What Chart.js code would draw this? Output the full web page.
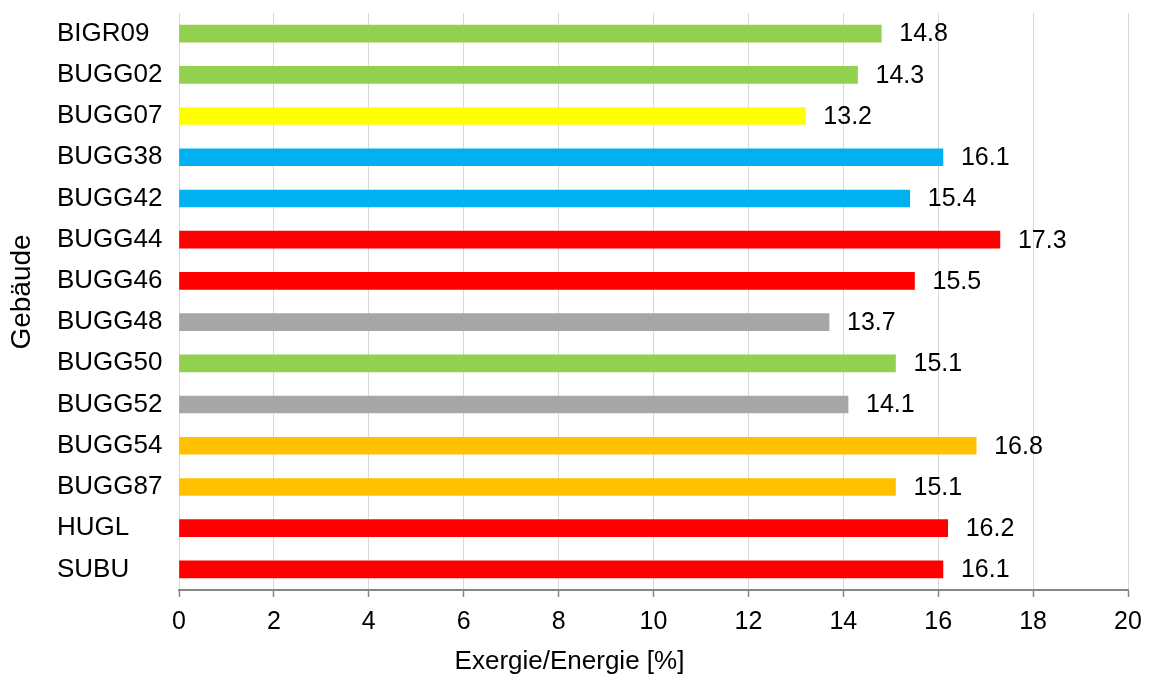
<!DOCTYPE html>
<html>
<head>
<meta charset="utf-8">
<title>Exergie/Energie je Gebäude</title>
<script src="https://cdn.jsdelivr.net/npm/chart.js@4.4.1/dist/chart.umd.min.js"></script>
<style>
  html, body { margin: 0; padding: 0; background: #ffffff; }
  #wrap { width: 1151px; height: 675px; position: relative; }
</style>
</head>
<body>
<div id="wrap"><canvas id="chart" width="1151" height="675"></canvas></div>
<script>
// Buildings and their exergy/energy ratio in percent
const buildings = ['BIGR09', 'BUGG02', 'BUGG07', 'BUGG38', 'BUGG42', 'BUGG44', 'BUGG46',
                   'BUGG48', 'BUGG50', 'BUGG52', 'BUGG54', 'BUGG87', 'HUGL', 'SUBU'];
const ratios = [14.8, 14.3, 13.2, 16.1, 15.4, 17.3, 15.5, 13.7, 15.1, 14.1, 16.8, 15.1, 16.2, 16.1];
const barColors = ['#92D050', '#92D050', '#FFFF00', '#00B0F0', '#00B0F0', '#FF0000', '#FF0000',
                   '#A6A6A6', '#92D050', '#A6A6A6', '#FFC000', '#FFC000', '#FF0000', '#FF0000'];
const xTitle = 'Exergie/Energie [%]';
const yTitle = 'Gebäude';

const FONT = '"Liberation Sans", Arial, sans-serif';

// Value labels to the right of each bar
const valueLabels = {
  id: 'valueLabels',
  afterDatasetsDraw(chart) {
    const ctx = chart.ctx;
    const meta = chart.getDatasetMeta(0);
    const data = chart.data.datasets[0].data;
    ctx.save();
    ctx.font = '25px ' + FONT;
    ctx.fillStyle = '#000000';
    ctx.textAlign = 'left';
    ctx.textBaseline = 'middle';
    meta.data.forEach((bar, i) => {
      ctx.fillText(data[i].toFixed(1), bar.x + 18, bar.y + 1);
    });
    ctx.restore();
  }
};

// Axis titles
const axisTitles = {
  id: 'axisTitles',
  afterDraw(chart) {
    const ctx = chart.ctx;
    ctx.save();
    ctx.fillStyle = '#000000';
    ctx.textAlign = 'center';
    ctx.textBaseline = 'middle';
    ctx.font = '26px ' + FONT;
    ctx.fillText(xTitle, 569.5, 662);
    ctx.translate(22, 292);
    ctx.rotate(-Math.PI / 2);
    ctx.font = '28px ' + FONT;
    ctx.fillText(yTitle, 0, 0);
    ctx.restore();
  }
};

new Chart(document.getElementById('chart'), {
  type: 'bar',
  data: {
    labels: buildings,
    datasets: [{
      data: ratios,
      backgroundColor: barColors,
      borderWidth: 0,
      barThickness: 17
    }]
  },
  options: {
    indexAxis: 'y',
    responsive: false,
    animation: false,
    layout: { padding: { left: 57, top: 13, right: 23, bottom: 0 } },
    plugins: {
      legend: { display: false },
      tooltip: { enabled: false },
      title: { display: false }
    },
    scales: {
      x: {
        min: 0,
        max: 20,
        ticks: {
          stepSize: 2,
          color: '#000000',
          font: { family: FONT, size: 25 },
          padding: 10,
          maxRotation: 0
        },
        grid: {
          color: '#D9D9D9',
          lineWidth: 1,
          drawTicks: true,
          tickLength: 7,
          tickColor: '#868686',
          tickWidth: 1.5
        },
        border: { display: true, color: '#868686', width: 2 },
        afterFit(scale) { scale.height = 85; scale.paddingLeft = 0; scale.paddingRight = 0; }
      },
      y: {
        ticks: {
          color: '#000000',
          font: { family: FONT, size: 26 },
          crossAlign: 'far',
          autoSkip: false
        },
        grid: { display: false, drawTicks: false },
        border: { display: false },
        afterFit(scale) { scale.width = 122; scale.paddingTop = 0; scale.paddingBottom = 0; }
      }
    }
  },
  plugins: [valueLabels, axisTitles]
});
</script>
</body>
</html>
